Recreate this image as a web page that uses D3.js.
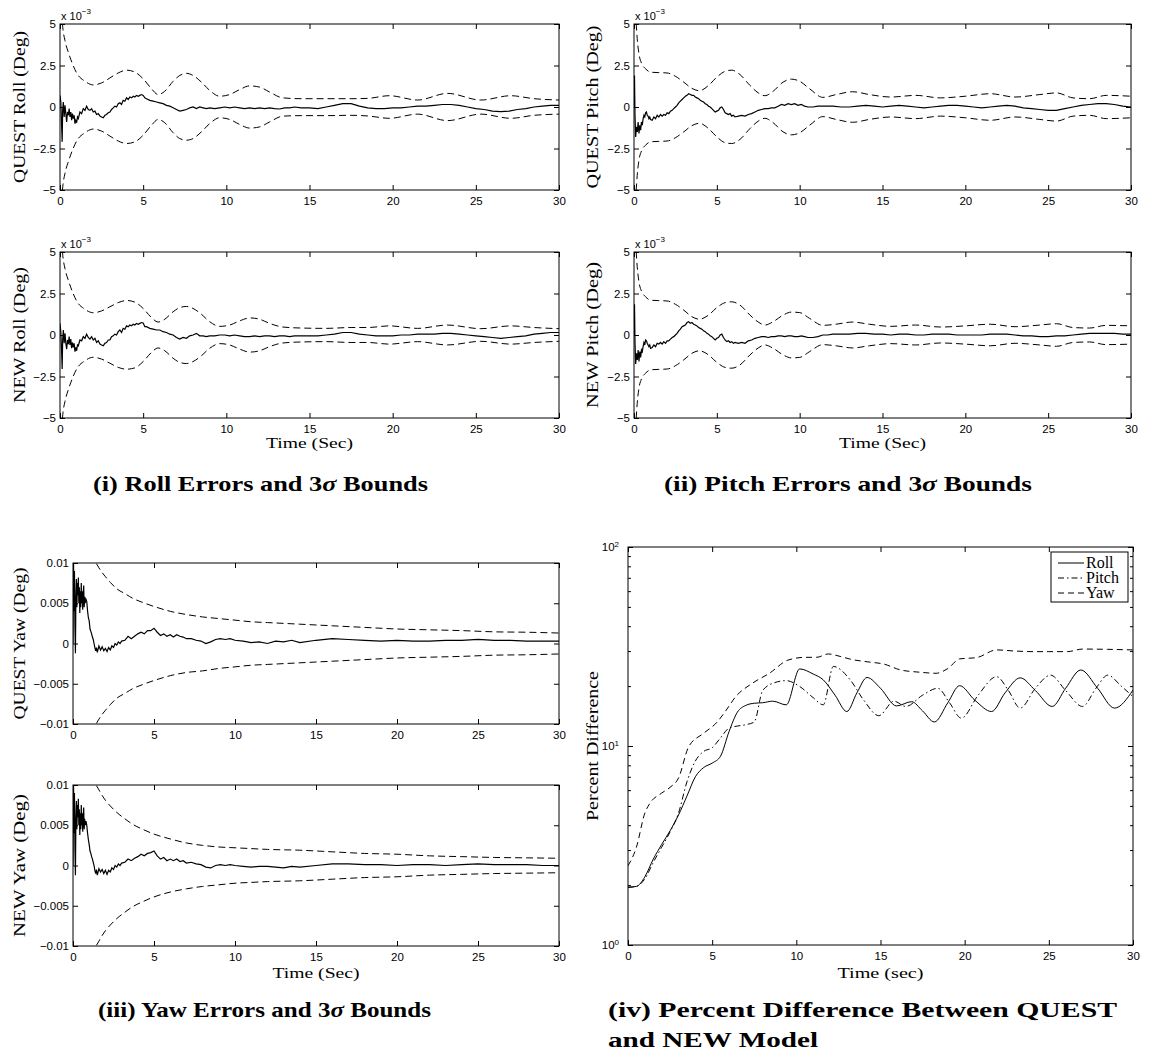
<!DOCTYPE html>
<html>
<head>
<meta charset="utf-8">
<script src="https://d3js.org/d3.v7.min.js"></script>
<style>
body { margin: 0; background: #fff; }
svg { display: block; }
.tick text { font-family: "Liberation Sans", Arial, sans-serif; font-size: 11.5px; fill: #000; }
.tick line { stroke: #000; }
.lab { font-family: "Liberation Serif", "Times New Roman", serif; fill: #000; }
.cap { font-family: "Liberation Serif", "Times New Roman", serif; font-weight: bold; fill: #000; }
.sans { font-family: "Liberation Sans", Arial, sans-serif; fill: #000; }
</style>
<title>Attitude errors</title>
</head>
<body>
<script>
// tick values / labels
var timeTicks = [0, 5, 10, 15, 20, 25, 30];
var milliTicks = [-5, -2.5, 0, 2.5, 5];
var milliLabels = ["\u22125", "\u22122.5", "0", "2.5", "5"];
var yawTicks = [-0.01, -0.005, 0, 0.005, 0.01];
var yawLabels = ["\u22120.01", "\u22120.005", "0", "0.005", "0.01"];
var pctMajor = [1, 10, 100];
var pctExp = ["0", "1", "2"];
var pctMinor = [2, 3, 4, 5, 6, 7, 8, 9, 20, 30, 40, 50, 60, 70, 80, 90];
var legendNames = ["Roll", "Pitch", "Yaw"];

// 3-sigma bounds, roll (x 1e-3 deg)
var rollBoundT = [0.03, 0.08, 0.15, 0.3, 0.5, 0.75, 1, 1.5, 2, 2.5, 3, 3.5, 4, 4.5, 5, 5.5, 5.9, 6.3, 6.8, 7.2, 7.6, 8, 8.5, 9, 9.6, 10.2, 10.8, 11.4, 12, 12.6, 13.4, 14.5, 16, 17.5, 18.5, 19.8, 21.5, 23.3, 25.3, 27.1, 28.5, 30];
var rollQuestUpper = [9, 6.2, 5, 4.0, 3.3, 2.6, 2.05, 1.55, 1.33, 1.45, 1.75, 2.05, 2.22, 2.1, 1.7, 1.1, 0.75, 0.95, 1.55, 1.9, 2.03, 1.9, 1.5, 1.0, 0.65, 0.75, 1.05, 1.27, 1.2, 0.9, 0.55, 0.5, 0.5, 0.5, 0.52, 0.68, 0.42, 0.82, 0.42, 0.68, 0.5, 0.42];
var rollQuestLower = [-9, -6.2, -5, -4.0, -3.3, -2.6, -2.05, -1.55, -1.33, -1.45, -1.75, -2.05, -2.2, -2.1, -1.7, -1.1, -0.75, -0.95, -1.55, -1.9, -2.0, -1.9, -1.5, -1.0, -0.65, -0.75, -1.05, -1.27, -1.2, -0.9, -0.55, -0.52, -0.52, -0.5, -0.54, -0.68, -0.43, -0.82, -0.43, -0.68, -0.5, -0.43];
var rollNewUpper = [9, 6.2, 5, 4.0, 3.3, 2.6, 2.05, 1.55, 1.34, 1.45, 1.7, 1.95, 2.08, 1.98, 1.6, 1.05, 0.78, 0.95, 1.4, 1.65, 1.72, 1.6, 1.25, 0.8, 0.52, 0.6, 0.85, 1.03, 0.95, 0.7, 0.48, 0.42, 0.4, 0.45, 0.45, 0.55, 0.4, 0.6, 0.38, 0.55, 0.45, 0.38];
var rollNewLower = [-9, -6.2, -5, -4.0, -3.3, -2.6, -2.05, -1.55, -1.34, -1.45, -1.7, -1.95, -2.06, -1.98, -1.6, -1.05, -0.78, -0.95, -1.4, -1.65, -1.72, -1.6, -1.25, -0.8, -0.52, -0.6, -0.85, -1.03, -0.95, -0.7, -0.48, -0.42, -0.4, -0.45, -0.45, -0.55, -0.4, -0.6, -0.38, -0.55, -0.45, -0.38];

// 3-sigma bounds, pitch (x 1e-3 deg)
var pitchBoundT = [0.03, 0.08, 0.16, 0.3, 0.45, 0.7, 1, 1.5, 2, 2.5, 3, 3.5, 3.95, 4.5, 5, 5.5, 5.9, 6.4, 7, 7.5, 7.9, 8.4, 9, 9.5, 10, 10.6, 11.4, 12.2, 13.2, 14.2, 15.5, 17, 18.5, 20, 21.5, 23, 24.5, 25.5, 26.5, 27.5, 28.5, 30];
var pitchQuestUpper = [9, 6.2, 4.6, 3.2, 2.65, 2.3, 2.1, 2.07, 2.05, 1.85, 1.5, 1.12, 0.98, 1.3, 1.8, 2.15, 2.22, 1.95, 1.3, 0.85, 0.68, 0.95, 1.5, 1.68, 1.55, 1.1, 0.58, 0.75, 0.92, 0.75, 0.6, 0.7, 0.55, 0.65, 0.8, 0.6, 0.75, 0.85, 0.55, 0.5, 0.7, 0.65];
var pitchQuestLower = [-9, -6.2, -4.6, -3.2, -2.65, -2.3, -2.1, -2.07, -2.05, -1.85, -1.5, -1.12, -0.98, -1.3, -1.8, -2.15, -2.2, -1.95, -1.3, -0.85, -0.68, -0.95, -1.5, -1.68, -1.55, -1.1, -0.58, -0.75, -0.92, -0.75, -0.6, -0.7, -0.55, -0.65, -0.8, -0.6, -0.75, -0.85, -0.55, -0.5, -0.7, -0.65];
var pitchNewUpper = [9, 6.2, 4.6, 3.2, 2.65, 2.3, 2.1, 2.07, 2.05, 1.85, 1.5, 1.1, 0.95, 1.2, 1.65, 1.95, 2.0, 1.8, 1.2, 0.78, 0.6, 0.8, 1.2, 1.38, 1.35, 1.0, 0.58, 0.65, 0.78, 0.65, 0.52, 0.6, 0.48, 0.55, 0.65, 0.5, 0.6, 0.68, 0.45, 0.42, 0.58, 0.55];
var pitchNewLower = [-9, -6.2, -4.6, -3.2, -2.65, -2.3, -2.1, -2.07, -2.05, -1.85, -1.5, -1.1, -0.95, -1.2, -1.65, -1.95, -2.0, -1.8, -1.2, -0.78, -0.6, -0.8, -1.2, -1.38, -1.35, -1.0, -0.58, -0.65, -0.78, -0.65, -0.52, -0.6, -0.48, -0.55, -0.65, -0.5, -0.6, -0.68, -0.45, -0.42, -0.58, -0.55];

// 3-sigma bounds, yaw (deg)
var yawBoundT = [1.0, 1.2, 1.4, 1.6, 1.8, 2.0, 2.3, 2.7, 3.2, 3.7, 4.3, 5, 6, 7, 8, 9, 10, 11, 12, 14, 16, 18, 20, 22, 24, 26, 28, 30];
var yawQuestUpper = [0.0125, 0.011, 0.0101, 0.0094, 0.0088, 0.0083, 0.0076, 0.0068, 0.0062, 0.0056, 0.0051, 0.0046, 0.0040, 0.0036, 0.0033, 0.0031, 0.0029, 0.0027, 0.0026, 0.0024, 0.0022, 0.0020, 0.0018, 0.0017, 0.0016, 0.00145, 0.0014, 0.0013];
var yawQuestLower = [-0.0125, -0.011, -0.0101, -0.0094, -0.0088, -0.0083, -0.0076, -0.0068, -0.0062, -0.0056, -0.0051, -0.0046, -0.0040, -0.0036, -0.0034, -0.0031, -0.0029, -0.0027, -0.0026, -0.0024, -0.0022, -0.0020, -0.0018, -0.0017, -0.0016, -0.00145, -0.0014, -0.0013];
var yawNewUpper = [0.0125, 0.011, 0.0101, 0.0094, 0.0087, 0.0081, 0.0074, 0.0066, 0.0058, 0.0051, 0.0045, 0.0039, 0.0033, 0.0028, 0.0025, 0.0023, 0.0022, 0.0021, 0.002, 0.0019, 0.0017, 0.0015, 0.0014, 0.0012, 0.0011, 0.001, 0.00095, 0.0009];
var yawNewLower = [-0.0125, -0.011, -0.0101, -0.0094, -0.0087, -0.0081, -0.0074, -0.0066, -0.0058, -0.0051, -0.0045, -0.0039, -0.0033, -0.0029, -0.0026, -0.0024, -0.0022, -0.0021, -0.002, -0.0019, -0.0017, -0.0015, -0.0014, -0.0012, -0.0011, -0.001, -0.00095, -0.0009];

// estimation errors [time, value]
var rollQuestErr = [[0,0.7],[0.05,0.3],[0.1,-1.2],[0.13,-2.1],[0.16,-0.2],[0.2,0.3],[0.25,-0.6],[0.3,0.1],[0.35,-0.4],[0.4,-0.9],[0.45,-0.3],[0.5,-0.5],[0.55,-0.1],[0.6,-0.6],[0.65,-0.3],[0.7,-0.8],[0.75,-0.4],[0.8,-0.7],[0.85,-0.5],[0.9,-1.0],[0.95,-0.8],[1.0,-0.95],[1.05,-0.6],[1.1,-0.7],[1.2,-0.3],[1.3,-0.4],[1.4,-0.1],[1.5,-0.2],[1.6,0.05],[1.7,-0.15],[1.8,-0.2],[1.9,-0.1],[2.0,-0.3],[2.1,-0.25],[2.2,-0.45],[2.3,-0.4],[2.4,-0.55],[2.5,-0.6],[2.6,-0.65],[2.7,-0.5],[2.8,-0.45],[2.9,-0.35],[3.0,-0.3],[3.1,-0.15],[3.2,-0.05],[3.3,0.05],[3.4,0.0],[3.5,0.2],[3.6,0.25],[3.7,0.15],[3.8,0.4],[3.9,0.35],[4.0,0.55],[4.1,0.45],[4.2,0.6],[4.3,0.55],[4.4,0.65],[4.5,0.6],[4.6,0.7],[4.7,0.65],[4.8,0.7],[4.9,0.75],[5.0,0.7],[5.1,0.55],[5.2,0.5],[5.4,0.4],[5.6,0.35],[5.8,0.3],[6.0,0.25],[6.2,0.2],[6.4,0.1],[6.6,0.05],[6.8,-0.05],[7.0,-0.15],[7.2,-0.25],[7.4,-0.2],[7.6,-0.15],[7.8,-0.05],[8.0,0.0],[8.2,-0.1],[8.4,0.0],[8.6,-0.05],[8.8,-0.1],[9.0,-0.05],[9.3,-0.1],[9.6,-0.05],[9.9,0.0],[10.2,-0.05],[10.5,0.0],[10.8,-0.05],[11.1,-0.1],[11.4,-0.05],[11.7,-0.1],[12.0,-0.05],[12.3,-0.1],[12.6,-0.05],[12.9,-0.1],[13.2,-0.12],[13.5,-0.05],[13.8,-0.05],[14.1,0.0],[14.5,-0.05],[15,-0.05],[15.5,-0.1],[16,0.0],[16.5,0.1],[17,0.2],[17.5,0.2],[18,0.05],[18.5,-0.05],[19,-0.1],[19.5,-0.1],[20,-0.05],[20.5,-0.05],[21,0.0],[21.5,0.05],[22,0.05],[22.5,0.1],[23,0.15],[23.5,0.15],[24,0.1],[24.5,0.0],[25,-0.1],[25.5,-0.15],[26,-0.25],[26.5,-0.28],[27,-0.25],[27.5,-0.15],[28,-0.1],[28.5,0.0],[29,0.05],[29.5,0.1],[30,0.1]];
var rollNewErr = [[0,0.7],[0.05,0.2],[0.1,-1.1],[0.13,-2.05],[0.16,-0.3],[0.2,0.3],[0.25,-0.5],[0.3,0.1],[0.35,-0.5],[0.4,-0.85],[0.45,-0.3],[0.5,-0.55],[0.55,-0.1],[0.6,-0.6],[0.65,-0.25],[0.7,-0.8],[0.75,-0.45],[0.8,-0.75],[0.85,-0.5],[0.9,-1.0],[0.95,-0.75],[1.0,-0.95],[1.05,-0.6],[1.1,-0.65],[1.2,-0.3],[1.3,-0.35],[1.4,-0.1],[1.5,-0.2],[1.6,0.05],[1.7,-0.15],[1.8,-0.25],[1.9,-0.1],[2.0,-0.3],[2.1,-0.2],[2.2,-0.45],[2.3,-0.35],[2.4,-0.55],[2.5,-0.6],[2.6,-0.65],[2.7,-0.5],[2.8,-0.45],[2.9,-0.3],[3.0,-0.3],[3.1,-0.1],[3.2,-0.05],[3.3,0.05],[3.4,0.0],[3.5,0.2],[3.6,0.3],[3.7,0.15],[3.8,0.4],[3.9,0.35],[4.0,0.55],[4.1,0.5],[4.2,0.6],[4.3,0.55],[4.4,0.65],[4.5,0.6],[4.6,0.7],[4.7,0.65],[4.8,0.7],[4.9,0.75],[5.0,0.72],[5.1,0.5],[5.2,0.5],[5.4,0.4],[5.6,0.35],[5.8,0.3],[6.0,0.3],[6.2,0.2],[6.4,0.15],[6.6,0.05],[6.8,0.0],[7.0,-0.15],[7.2,-0.25],[7.4,-0.15],[7.6,-0.2],[7.8,-0.05],[8.0,0.0],[8.2,0.1],[8.4,-0.05],[8.6,-0.05],[8.8,-0.1],[9.0,-0.05],[9.3,-0.05],[9.6,0.0],[9.9,0.0],[10.2,-0.05],[10.5,0.0],[10.8,-0.05],[11.1,-0.1],[11.4,-0.1],[11.7,-0.05],[12.0,-0.1],[12.3,-0.05],[12.6,-0.05],[12.9,-0.1],[13.2,-0.05],[13.5,-0.05],[13.8,-0.1],[14.1,-0.05],[14.5,-0.05],[15,-0.05],[15.5,-0.05],[16,0.0],[16.5,0.05],[17,0.15],[17.5,0.15],[18,0.05],[18.5,0.0],[19,-0.05],[19.5,-0.05],[20,-0.05],[20.5,0.0],[21,0.0],[21.5,0.05],[22,0.05],[22.5,0.05],[23,0.1],[23.5,0.1],[24,0.05],[24.5,0.0],[25,-0.05],[25.5,-0.1],[26,-0.15],[26.5,-0.2],[27,-0.15],[27.5,-0.1],[28,-0.05],[28.5,0.05],[29,0.1],[29.5,0.15],[30,0.15]];
var pitchQuestErr = [[0,0],[0.03,1.9],[0.06,-0.5],[0.1,-1.8],[0.15,-1.2],[0.2,-1.5],[0.25,-0.9],[0.3,-1.6],[0.35,-1.1],[0.4,-1.4],[0.45,-0.9],[0.5,-1.1],[0.55,-0.7],[0.6,-0.5],[0.65,-0.6],[0.7,-0.35],[0.75,-0.3],[0.8,-0.5],[0.85,-0.55],[0.9,-0.7],[0.95,-0.6],[1.0,-0.75],[1.1,-0.8],[1.2,-0.6],[1.3,-0.7],[1.4,-0.5],[1.5,-0.6],[1.6,-0.45],[1.7,-0.55],[1.8,-0.45],[1.9,-0.5],[2.0,-0.35],[2.1,-0.4],[2.2,-0.25],[2.3,-0.2],[2.4,-0.1],[2.5,0.0],[2.6,0.1],[2.7,0.25],[2.8,0.35],[2.9,0.45],[3.0,0.55],[3.1,0.65],[3.2,0.7],[3.3,0.8],[3.4,0.75],[3.5,0.7],[3.6,0.7],[3.7,0.6],[3.8,0.55],[3.9,0.5],[4.0,0.4],[4.1,0.35],[4.2,0.3],[4.3,0.2],[4.4,0.15],[4.5,0.05],[4.6,0.0],[4.7,-0.1],[4.8,-0.2],[4.9,-0.3],[5.0,-0.25],[5.1,-0.2],[5.2,-0.05],[5.3,0.0],[5.4,-0.15],[5.5,-0.35],[5.6,-0.4],[5.7,-0.45],[5.8,-0.4],[5.9,-0.55],[6.0,-0.5],[6.1,-0.6],[6.3,-0.55],[6.5,-0.5],[6.7,-0.55],[6.9,-0.45],[7.1,-0.4],[7.3,-0.3],[7.5,-0.2],[7.7,-0.15],[7.9,-0.1],[8.1,-0.1],[8.3,-0.05],[8.5,-0.05],[8.7,0.05],[8.9,0.15],[9.1,0.1],[9.3,0.2],[9.5,0.15],[9.7,0.2],[9.9,0.1],[10.1,0.15],[10.3,0.05],[10.5,0.0],[10.8,0.0],[11.1,0.05],[11.4,0.05],[11.7,0.05],[12.0,0.05],[12.5,0.0],[13,0.0],[13.5,0.05],[14,0.1],[14.5,0.05],[15,0.0],[15.5,0.05],[16,0.1],[16.5,0.05],[17,0.0],[17.5,-0.05],[18,0.0],[18.5,0.05],[19,0.1],[19.5,0.1],[20,0.05],[20.5,0.0],[21,-0.05],[21.5,0.0],[22,0.05],[22.5,0.1],[23,0.05],[23.5,-0.05],[24,-0.1],[24.5,-0.15],[25,-0.2],[25.5,-0.2],[26,-0.1],[26.5,0.0],[27,0.1],[27.5,0.15],[28,0.2],[28.5,0.2],[29,0.15],[29.5,0.05],[30,0.0]];
var pitchNewErr = [[0,0],[0.03,1.85],[0.06,-0.4],[0.1,-1.75],[0.15,-1.1],[0.2,-1.5],[0.25,-0.9],[0.3,-1.6],[0.35,-1.0],[0.4,-1.35],[0.45,-0.9],[0.5,-1.0],[0.55,-0.7],[0.6,-0.45],[0.65,-0.6],[0.7,-0.3],[0.75,-0.35],[0.8,-0.5],[0.85,-0.6],[0.9,-0.7],[0.95,-0.6],[1.0,-0.8],[1.1,-0.75],[1.2,-0.6],[1.3,-0.7],[1.4,-0.5],[1.5,-0.55],[1.6,-0.45],[1.7,-0.55],[1.8,-0.4],[1.9,-0.5],[2.0,-0.35],[2.1,-0.35],[2.2,-0.25],[2.3,-0.15],[2.4,-0.1],[2.5,0.0],[2.6,0.1],[2.7,0.25],[2.8,0.35],[2.9,0.5],[3.0,0.55],[3.1,0.6],[3.2,0.75],[3.3,0.8],[3.4,0.7],[3.5,0.75],[3.6,0.65],[3.7,0.6],[3.8,0.55],[3.9,0.45],[4.0,0.4],[4.1,0.35],[4.2,0.25],[4.3,0.2],[4.4,0.1],[4.5,0.05],[4.6,-0.05],[4.7,-0.1],[4.8,-0.2],[4.9,-0.3],[5.0,-0.2],[5.1,-0.15],[5.2,0.0],[5.3,0.05],[5.4,-0.15],[5.5,-0.3],[5.6,-0.4],[5.7,-0.35],[5.8,-0.45],[5.9,-0.4],[6.0,-0.5],[6.1,-0.45],[6.3,-0.5],[6.5,-0.45],[6.7,-0.5],[6.9,-0.35],[7.1,-0.3],[7.3,-0.2],[7.5,-0.15],[7.7,-0.1],[7.9,-0.1],[8.1,-0.15],[8.3,-0.1],[8.5,-0.1],[8.7,-0.05],[8.9,-0.05],[9.1,-0.1],[9.3,-0.05],[9.5,-0.05],[9.7,-0.1],[9.9,-0.1],[10.1,-0.05],[10.3,-0.1],[10.5,-0.15],[10.8,-0.15],[11.1,-0.1],[11.4,0.0],[11.7,0.0],[12.0,0.05],[12.5,0.05],[13,0.05],[13.5,0.1],[14,0.1],[14.5,0.05],[15,0.05],[15.5,0.0],[16,0.05],[16.5,0.05],[17,0.0],[17.5,0.0],[18,0.05],[18.5,0.05],[19,0.05],[19.5,0.0],[20,0.0],[20.5,0.0],[21,0.0],[21.5,0.05],[22,0.05],[22.5,0.05],[23,0.0],[23.5,-0.05],[24,-0.05],[24.5,-0.1],[25,-0.1],[25.5,-0.05],[26,-0.05],[26.5,0.0],[27,0.05],[27.5,0.1],[28,0.1],[28.5,0.1],[29,0.1],[29.5,0.05],[30,0.05]];
var yawQuestErr = [[0,0],[0.03,0.011],[0.06,0.004],[0.09,0.009],[0.12,0.002],[0.15,-0.0012],[0.18,0.006],[0.21,0.008],[0.24,0.0045],[0.27,0.0075],[0.3,0.006],[0.33,0.0082],[0.36,0.005],[0.39,0.007],[0.42,0.0038],[0.45,0.0065],[0.48,0.0045],[0.51,0.0075],[0.54,0.005],[0.57,0.0065],[0.6,0.0042],[0.63,0.006],[0.66,0.0072],[0.69,0.0045],[0.72,0.0058],[0.75,0.005],[0.8,0.0055],[0.85,0.0052],[0.9,0.004],[0.95,0.0032],[1.0,0.0028],[1.05,0.0018],[1.1,0.0015],[1.15,0.0012],[1.2,0.0008],[1.25,0.0005],[1.3,0.0],[1.35,-0.0005],[1.4,-0.0009],[1.45,-0.0005],[1.5,-0.0011],[1.6,-0.0003],[1.7,-0.0008],[1.8,-0.0004],[1.9,-0.0009],[2.0,-0.0006],[2.1,-0.001],[2.2,-0.0005],[2.3,-0.0008],[2.4,-0.0003],[2.5,-0.0005],[2.6,0.0],[2.7,-0.0002],[2.8,0.0002],[2.9,0.0],[3.0,0.0003],[3.2,0.0004],[3.4,0.0009],[3.6,0.0006],[3.8,0.0009],[4.0,0.0012],[4.2,0.0014],[4.4,0.0012],[4.6,0.0016],[4.8,0.0016],[5.0,0.0019],[5.2,0.0014],[5.4,0.001],[5.6,0.0012],[5.8,0.0009],[6.0,0.0011],[6.2,0.0008],[6.4,0.0011],[6.6,0.0009],[6.8,0.0008],[7.0,0.0006],[7.3,0.0006],[7.6,0.0004],[7.9,0.0003],[8.2,0.0],[8.5,0.0002],[8.8,0.0005],[9.1,0.0006],[9.4,0.0005],[9.7,0.0006],[10.0,0.0004],[10.5,0.0003],[11,0.0001],[11.5,0.0002],[12,0.0],[12.5,0.0003],[13,0.0002],[13.5,0.0004],[14,0.0001],[15,0.0004],[16,0.0006],[17,0.0005],[18,0.0004],[19,0.0003],[20,0.0004],[21,0.0003],[22,0.0003],[23,0.0004],[24,0.0004],[25,0.0005],[26,0.0004],[27,0.0004],[28,0.0003],[29,0.0003],[30,0.0003]];
var yawNewErr = [[0,0],[0.03,0.011],[0.06,0.004],[0.09,0.009],[0.12,0.002],[0.15,-0.0012],[0.18,0.006],[0.21,0.008],[0.24,0.0045],[0.27,0.0075],[0.3,0.006],[0.33,0.0083],[0.36,0.005],[0.39,0.007],[0.42,0.0038],[0.45,0.0065],[0.48,0.0045],[0.51,0.0075],[0.54,0.005],[0.57,0.0065],[0.6,0.0042],[0.63,0.006],[0.66,0.0072],[0.69,0.0045],[0.72,0.0058],[0.75,0.005],[0.8,0.0055],[0.85,0.005],[0.9,0.004],[0.95,0.0032],[1.0,0.0026],[1.05,0.0018],[1.1,0.0015],[1.15,0.0011],[1.2,0.0008],[1.25,0.0004],[1.3,0.0],[1.35,-0.0006],[1.4,-0.001],[1.45,-0.0005],[1.5,-0.0012],[1.6,-0.0004],[1.7,-0.0008],[1.8,-0.0005],[1.9,-0.001],[2.0,-0.0006],[2.1,-0.0011],[2.2,-0.0006],[2.3,-0.0008],[2.4,-0.0003],[2.5,-0.0005],[2.6,0.0],[2.7,-0.0002],[2.8,0.0002],[2.9,0.0],[3.0,0.0003],[3.2,0.0004],[3.4,0.0008],[3.6,0.0006],[3.8,0.0009],[4.0,0.0011],[4.2,0.0014],[4.4,0.0012],[4.6,0.0015],[4.8,0.0016],[5.0,0.0018],[5.2,0.0012],[5.4,0.0008],[5.6,0.001],[5.8,0.0006],[6.0,0.0008],[6.2,0.0006],[6.4,0.0008],[6.6,0.0005],[6.8,0.0006],[7.0,0.0003],[7.3,0.0004],[7.6,0.0002],[7.9,0.0001],[8.2,-0.0002],[8.5,-0.0003],[8.8,0.0],[9.1,0.0001],[9.4,0.0],[9.7,0.0001],[10.0,0.0],[10.5,-0.0001],[11,-0.0002],[11.5,-0.0001],[12,-0.0001],[12.5,-0.0002],[13,-0.0003],[13.5,-0.0001],[14,-0.0002],[15,0.0],[16,0.0002],[17,0.0002],[18,0.0001],[19,0.0001],[20,0.0],[21,0.0001],[22,0.0001],[23,0.0],[24,0.0001],[25,0.0002],[26,0.0001],[27,0.0001],[28,0.0001],[29,0.0],[30,0.0]];

// percent difference between QUEST and NEW [time, percent]
var pctRoll = [[0,1.95],[0.5,1.97],[1,2.2],[1.5,2.7],[2,3.2],[2.5,3.75],[3,4.5],[3.5,5.6],[4,7.0],[4.5,7.8],[5,8.2],[5.5,8.9],[6,11.8],[6.5,14.8],[7,16.0],[7.5,16.4],[8,16.5],[8.6,16.8],[9.4,16.1],[10.2,24.4],[11,23.0],[11.6,21.5],[12.3,18],[13,14.9],[13.6,18.5],[14.2,22.1],[15,19.5],[15.95,15.9],[16.85,16.7],[17.5,15.0],[18.2,13.2],[19,16.5],[19.7,20.1],[20.6,17],[21.6,14.9],[22.4,18.5],[23.3,22.0],[24.2,19],[25.2,15.8],[26,19.5],[26.9,24.1],[27.9,19.5],[28.9,15.5],[30,19.1]];
var pctPitch = [[0,1.95],[0.5,1.97],[1,2.15],[1.5,2.6],[2,3.1],[2.5,3.7],[3,4.6],[3.5,6.6],[4,8.4],[4.5,9.4],[5,9.8],[5.5,11.0],[6,12.3],[6.5,12.6],[7,12.8],[7.5,13.2],[8,19],[8.7,20.8],[9.4,21.3],[10.2,19.9],[11,17.5],[11.6,16.1],[12.2,25.1],[13.2,21.5],[14,17],[14.9,14.2],[15.8,16.8],[16.5,15.8],[17.5,18],[18.4,19.5],[19.1,16.5],[19.8,13.8],[20.8,18],[21.9,22.3],[22.6,19],[23.3,15.5],[24.2,19.5],[25.1,22.7],[26,19],[27.0,15.8],[27.8,19.5],[28.5,22.7],[29.3,20],[30,17.7]];
var pctYaw = [[0,2.5],[0.5,3.1],[1,4.6],[1.3,5.15],[2,5.8],[2.5,6.2],[3,6.9],[3.6,9.9],[4.5,11.6],[5.3,13.2],[5.8,15],[6.4,17.7],[7.4,20.7],[8.4,23.2],[9.5,27.0],[10.5,27.9],[11.2,27.9],[11.9,29.0],[12.6,28.2],[13.3,27.2],[14.2,26.5],[15.2,25.8],[16.2,24.1],[17.3,23.5],[18.3,23.2],[19,24.5],[19.7,27.4],[20.7,27.8],[21.9,30.4],[23,30],[24.1,29.8],[25,29.8],[26.1,29.8],[27,30.7],[28.5,30.6],[30,30.4]];

var svg = d3.select("body").append("svg")
    .attr("width", 1149)
    .attr("height", 1053);

var clipN = 0;

function addText(str, x, y, cls, size, len, rotate) {
  var t = svg.append("text")
      .attr("class", cls)
      .attr("font-size", size)
      .attr("text-anchor", rotate ? "middle" : "start");
  if (rotate) t.attr("transform", "translate(" + x + "," + y + ") rotate(-90)");
  else t.attr("x", x).attr("y", y);
  str.split("\u03c3").forEach(function(s, i) {
    if (i > 0) t.append("tspan").attr("font-style", "italic").text("\u03c3");
    t.append("tspan").text(s);
  });
  if (len) t.attr("textLength", len).attr("lengthAdjust", "spacingAndGlyphs");
  return t;
}

function panel(p) {
  var x = d3.scaleLinear().domain([0, 30]).range([p.x0, p.x1]);
  var y = p.log ? d3.scaleLog().domain([1, 100]).range([p.y1, p.y0])
                : d3.scaleLinear().domain(p.yDomain).range([p.y1, p.y0]);

  var cid = "clip" + (clipN++);
  svg.append("clipPath").attr("id", cid).append("rect")
      .attr("x", p.x0).attr("y", p.y0)
      .attr("width", p.x1 - p.x0).attr("height", p.y1 - p.y0);

  var plot = svg.append("g").attr("clip-path", "url(#" + cid + ")");
  p.lines.forEach(function(s) {
    var line = d3.line()
        .x(function(d) { return x(d[0]); })
        .y(function(d) { return y(d[1]); })
        .curve(s.curve || d3.curveLinear);
    plot.append("path")
        .datum(s.data)
        .attr("d", line)
        .attr("fill", "none")
        .attr("stroke", "#000")
        .attr("stroke-width", s.w || 1)
        .attr("stroke-dasharray", s.dash || null);
  });

  var ax = svg.append("g");
  ax.append("g").attr("transform", "translate(0," + p.y1 + ")")
      .call(d3.axisBottom(x).tickValues(timeTicks).tickSizeInner(-5).tickSizeOuter(0).tickPadding(7));
  ax.append("g").attr("transform", "translate(0," + p.y0 + ")")
      .call(d3.axisTop(x).tickValues(timeTicks).tickSizeInner(-5).tickSizeOuter(0).tickFormat(""));

  if (p.log) {
    ax.append("g").attr("transform", "translate(" + p.x0 + ",0)")
        .call(d3.axisLeft(y).tickValues(pctMajor).tickSizeInner(-5).tickSizeOuter(0).tickPadding(9)
          .tickFormat(function() { return "10"; }))
      .selectAll(".tick text").each(function(d, i) {
        d3.select(this).append("tspan").attr("dy", "-0.55em").attr("font-size", "8px").text(pctExp[i]);
      });
    ax.append("g").attr("transform", "translate(" + p.x1 + ",0)")
        .call(d3.axisRight(y).tickValues(pctMajor).tickSizeInner(-5).tickSizeOuter(0).tickFormat(""));
    ax.append("g").attr("transform", "translate(" + p.x0 + ",0)")
        .call(d3.axisLeft(y).tickValues(pctMinor).tickSizeInner(-3).tickSizeOuter(0).tickFormat(""));
    ax.append("g").attr("transform", "translate(" + p.x1 + ",0)")
        .call(d3.axisRight(y).tickValues(pctMinor).tickSizeInner(-3).tickSizeOuter(0).tickFormat(""));
  } else {
    ax.append("g").attr("transform", "translate(" + p.x0 + ",0)")
        .call(d3.axisLeft(y).tickValues(p.yTicks).tickSizeInner(-5).tickSizeOuter(0).tickPadding(4)
          .tickFormat(function(d, i) { return p.yLabels[i]; }));
    ax.append("g").attr("transform", "translate(" + p.x1 + ",0)")
        .call(d3.axisRight(y).tickValues(p.yTicks).tickSizeInner(-5).tickSizeOuter(0).tickFormat(""));
  }
  ax.selectAll(".domain").remove();

  svg.append("rect")
      .attr("x", p.x0).attr("y", p.y0)
      .attr("width", p.x1 - p.x0).attr("height", p.y1 - p.y0)
      .attr("fill", "none").attr("stroke", "#000").attr("stroke-width", 1);

  if (p.exp) {
    var e = svg.append("text").attr("class", "sans").attr("font-size", 11)
        .attr("x", p.x0 + 1).attr("y", p.y0 - 4).text("x 10");
    e.append("tspan").attr("dy", -6).attr("font-size", 8).text("\u22123");
  }
  addText(p.ylabel, p.ylx, (p.y0 + p.y1) / 2, "lab", 17, p.ylen, true);
  if (p.xlabel) addText(p.xlabel, (p.x0 + p.x1) / 2 - p.xlen / 2, p.xly, "lab", 15, p.xlen, false);
  return { x: x, y: y };
}

function bounds(t, up, lo) {
  return [
    { data: d3.zip(t, up), dash: "7,4", curve: d3.curveMonotoneX },
    { data: d3.zip(t, lo), dash: "7,4", curve: d3.curveMonotoneX }
  ];
}

// (i) roll
panel({ x0: 60, x1: 559, y0: 24, y1: 190, yDomain: [-5, 5], yTicks: milliTicks, yLabels: milliLabels, exp: true,
  ylabel: "QUEST Roll (Deg)", ylx: 25, ylen: 152,
  lines: bounds(rollBoundT, rollQuestUpper, rollQuestLower).concat([{ data: rollQuestErr, w: 1.2 }]) });
panel({ x0: 60, x1: 559, y0: 252, y1: 418, yDomain: [-5, 5], yTicks: milliTicks, yLabels: milliLabels, exp: true,
  ylabel: "NEW Roll (Deg)", ylx: 25, ylen: 136, xlabel: "Time (Sec)", xly: 448, xlen: 87,
  lines: bounds(rollBoundT, rollNewUpper, rollNewLower).concat([{ data: rollNewErr, w: 1.2 }]) });

// (ii) pitch
panel({ x0: 634, x1: 1131, y0: 24, y1: 190, yDomain: [-5, 5], yTicks: milliTicks, yLabels: milliLabels, exp: true,
  ylabel: "QUEST Pitch (Deg)", ylx: 598, ylen: 163,
  lines: bounds(pitchBoundT, pitchQuestUpper, pitchQuestLower).concat([{ data: pitchQuestErr, w: 1.2 }]) });
panel({ x0: 634, x1: 1131, y0: 252, y1: 418, yDomain: [-5, 5], yTicks: milliTicks, yLabels: milliLabels, exp: true,
  ylabel: "NEW Pitch (Deg)", ylx: 598, ylen: 146, xlabel: "Time (Sec)", xly: 448, xlen: 87,
  lines: bounds(pitchBoundT, pitchNewUpper, pitchNewLower).concat([{ data: pitchNewErr, w: 1.2 }]) });

// (iii) yaw
panel({ x0: 73, x1: 559, y0: 563, y1: 724, yDomain: [-0.01, 0.01], yTicks: yawTicks, yLabels: yawLabels,
  ylabel: "QUEST Yaw (Deg)", ylx: 25, ylen: 152,
  lines: bounds(yawBoundT, yawQuestUpper, yawQuestLower).concat([{ data: yawQuestErr, w: 1.2 }]) });
panel({ x0: 73, x1: 559, y0: 785, y1: 946, yDomain: [-0.01, 0.01], yTicks: yawTicks, yLabels: yawLabels,
  ylabel: "NEW Yaw (Deg)", ylx: 25, ylen: 143, xlabel: "Time (Sec)", xly: 978, xlen: 87,
  lines: bounds(yawBoundT, yawNewUpper, yawNewLower).concat([{ data: yawNewErr, w: 1.2 }]) });

// (iv) percent difference
var styles = [{ dash: null }, { dash: "6,3,1.5,3" }, { dash: "6,4" }];
panel({ x0: 628, x1: 1133, y0: 547, y1: 945, log: true,
  ylabel: "Percent Difference", ylx: 598, ylen: 150, xlabel: "Time (sec)", xly: 978, xlen: 86,
  lines: [
    { data: pctRoll, curve: d3.curveMonotoneX, dash: styles[0].dash },
    { data: pctPitch, curve: d3.curveMonotoneX, dash: styles[1].dash },
    { data: pctYaw, curve: d3.curveMonotoneX, dash: styles[2].dash }
  ] });

var legend = svg.append("g");
legend.append("rect").attr("x", 1051).attr("y", 552).attr("width", 77).attr("height", 50)
    .attr("fill", "#fff").attr("stroke", "#000").attr("stroke-width", 1);
legendNames.forEach(function(name, i) {
  var ly = 563 + i * 15;
  legend.append("line").attr("x1", 1058).attr("x2", 1084).attr("y1", ly).attr("y2", ly)
      .attr("stroke", "#000").attr("stroke-dasharray", styles[i].dash);
  legend.append("text").attr("class", "lab").attr("font-size", 16)
      .attr("x", 1086).attr("y", ly + 5).text(name);
});

// captions
addText("(i) Roll Errors and 3\u03c3 Bounds", 93, 491, "cap", 21, 335, false);
addText("(ii) Pitch Errors and 3\u03c3 Bounds", 664, 491, "cap", 21, 368, false);
addText("(iii) Yaw Errors and 3\u03c3 Bounds", 98, 1017, "cap", 21, 333, false);
addText("(iv) Percent Difference Between QUEST", 608, 1017, "cap", 21, 509, false);
addText("and NEW Model", 608, 1047, "cap", 21, 210, false);
</script>
</body>
</html>
